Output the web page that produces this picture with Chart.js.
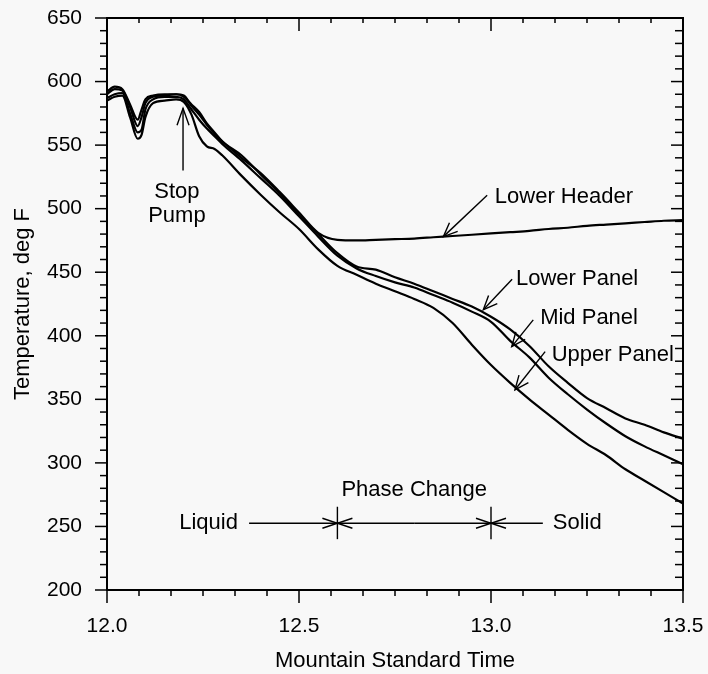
<!DOCTYPE html>
<html>
<head>
<meta charset="utf-8">
<script src="https://cdn.jsdelivr.net/npm/chart.js@4/dist/chart.umd.min.js"></script>
<style>
  html, body { margin: 0; padding: 0; background: #f8f8f8; }
  canvas { display: block; }
</style>
</head>
<body>
<canvas id="chart" width="708" height="674"></canvas>
<script>
// time in hours (MST), temperatures in deg F
const times = [12.0, 12.02, 12.04, 12.06, 12.08, 12.09, 12.1, 12.12, 12.15, 12.18,
  12.2, 12.22, 12.24, 12.26, 12.28, 12.3, 12.35, 12.4, 12.45, 12.5,
  12.55, 12.6, 12.65, 12.7, 12.75, 12.8, 12.85, 12.9, 12.95, 13.0,
  13.05, 13.1, 13.15, 13.2, 13.25, 13.3, 13.35, 13.4, 13.45, 13.5];

const lowerHeader = [592, 596, 594, 582, 570, 578, 586, 589, 590, 590,
  589, 581, 574, 566, 559, 553, 540, 528, 513, 497,
  481, 475.5, 475, 475.5, 476, 476.5, 477.5, 478.5, 479.5, 480.5,
  481.5, 482.5, 484, 485, 486.5, 487.5, 488.5, 489.5, 490.5, 491];
const lowerPanel = [590, 594, 593, 580, 565, 572, 583, 588, 589, 590,
  588, 582, 576, 567, 560, 553, 542, 527, 512, 495,
  480, 465, 454.5, 452, 446, 441, 435, 429, 423, 415,
  405, 392, 376, 363, 351, 343, 335, 330, 324, 319];
const midPanel = [587, 590, 591, 575, 560, 562, 578, 586, 588, 588,
  586, 578, 570, 563, 557, 551, 538, 524, 510, 494,
  478, 463, 453, 447, 442, 438, 432, 426, 419, 411,
  396, 383, 367, 354, 342, 331, 321, 313, 306, 299];
const upperPanel = [585, 588, 589, 572, 555, 558, 572, 583, 585, 586,
  584, 574, 557, 549, 547, 542, 526, 511, 497, 484,
  468, 455, 448, 441, 435, 429, 422, 410, 393, 377,
  363, 350, 338, 326, 315, 306, 295, 286, 277, 268];

const xTicks = [12.0, 12.5, 13.0, 13.5];
const yTicks = [200, 250, 300, 350, 400, 450, 500, 550, 600, 650];

// annotations, in data units
const notes = [
  ["Stop", 12.182, 513, "center"],
  ["Pump", 12.182, 494, "center"],
  ["Lower Header", 13.01, 509.5, "left"],
  ["Lower Panel", 13.065, 444.5, "left"],
  ["Mid Panel", 13.128, 414, "left"],
  ["Upper Panel", 13.158, 385, "left"],
  ["Phase Change", 12.8, 279, "center"],
  ["Liquid", 12.341, 252.5, "right"],
  ["Solid", 13.161, 252.5, "left"]
];
// [fromX, fromY, tipX, tipY, headLen, headHalfWidth]
const arrows = [
  [12.198, 530, 12.198, 579, 17, 6],
  [12.99, 510.5, 12.876, 478, 14, 6],
  [13.055, 444.5, 12.98, 420.5, 14, 6],
  [13.11, 412.5, 13.054, 391.5, 14, 6],
  [13.141, 387.5, 13.0625, 357.5, 14, 6],
  [12.37, 252.5, 12.6, 252.5, 15, 5],
  [12.8, 252.5, 12.6, 252.5, 15, 5],
  [12.8, 252.5, 13.0, 252.5, 15, 5],
  [13.135, 252.5, 13.0, 252.5, 15, 5]
];
const phaseBars = [12.6, 13.0];

const FONT = "'Liberation Sans', Arial, Helvetica, sans-serif";

const decor = {
  id: "decor",
  beforeDraw(chart) {
    const ctx = chart.ctx;
    ctx.save();
    ctx.fillStyle = "#f8f8f8";
    ctx.fillRect(0, 0, chart.width, chart.height);
    ctx.restore();
  },
  afterDraw(chart) {
    const { ctx, chartArea: a, scales: { x, y } } = chart;
    const seg = (x0, y0, x1, y1) => { ctx.beginPath(); ctx.moveTo(x0, y0); ctx.lineTo(x1, y1); ctx.stroke(); };
    ctx.save();
    ctx.strokeStyle = "#000";
    ctx.lineWidth = 2;
    ctx.strokeRect(a.left, a.top, a.right - a.left, a.bottom - a.top);

    ctx.lineWidth = 1.5;
    for (let v = 200; v <= 650; v += 10) {
      const p = y.getPixelForValue(v);
      const major = v % 50 === 0;
      seg(a.left - (major ? 12 : 7), p, a.left, p);
      seg(a.right - (major ? 12 : 8), p, a.right, p);
    }
    for (let i = 0; i <= 18; i++) {
      const p = x.getPixelForValue(12 + i / 12);
      const major = i % 6 === 0;
      seg(p, a.bottom, p, a.bottom + (major ? 13 : 6));
      seg(p, a.top, p, a.top + (major ? 13 : 5));
    }

    ctx.lineWidth = 1.4;
    arrows.forEach(([fx, fy, tx, ty, hl, hw]) => {
      const x0 = x.getPixelForValue(fx), y0 = y.getPixelForValue(fy);
      const x1 = x.getPixelForValue(tx), y1 = y.getPixelForValue(ty);
      seg(x0, y0, x1, y1);
      const len = Math.hypot(x0 - x1, y0 - y1);
      const ux = (x0 - x1) / len, uy = (y0 - y1) / len;
      ctx.beginPath();
      ctx.moveTo(x1 + ux * hl - uy * hw, y1 + uy * hl + ux * hw);
      ctx.lineTo(x1, y1);
      ctx.lineTo(x1 + ux * hl + uy * hw, y1 + uy * hl - ux * hw);
      ctx.stroke();
    });
    phaseBars.forEach(t => {
      const p = x.getPixelForValue(t);
      seg(p, y.getPixelForValue(265.5), p, y.getPixelForValue(240));
    });

    ctx.fillStyle = "#000";
    ctx.font = "22px " + FONT;
    ctx.textBaseline = "middle";
    notes.forEach(([txt, tx, ty, align]) => {
      ctx.textAlign = align;
      ctx.fillText(txt, x.getPixelForValue(tx), y.getPixelForValue(ty));
    });
    ctx.restore();
  }
};

const series = [lowerHeader, lowerPanel, midPanel, upperPanel];
const names = ["Lower Header", "Lower Panel", "Mid Panel", "Upper Panel"];

new Chart(document.getElementById("chart"), {
  type: "line",
  data: {
    datasets: series.map((vals, k) => ({
      label: names[k],
      data: times.map((t, i) => ({ x: t, y: vals[i] })),
      borderColor: "#000",
      borderWidth: 2.2,
      pointRadius: 0,
      fill: false,
      cubicInterpolationMode: "monotone"
    }))
  },
  options: {
    responsive: false,
    animation: false,
    layout: { padding: { left: 0, top: 18, right: 25, bottom: 0 } },
    plugins: { legend: { display: false }, tooltip: { enabled: false } },
    scales: {
      x: {
        type: "linear",
        min: 12, max: 13.5,
        afterFit: s => { s.height = 84; s.paddingLeft = 0; s.paddingRight = 0; },
        afterBuildTicks: s => { s.ticks = xTicks.map(v => ({ value: v })); },
        grid: { display: false, drawTicks: false },
        border: { display: false },
        ticks: { color: "#000", padding: 24, font: { family: FONT, size: 21 }, callback: v => v.toFixed(1) },
        title: { display: true, text: "Mountain Standard Time", color: "#000", padding: { top: 0, bottom: 0 }, font: { family: FONT, size: 22 } }
      },
      y: {
        min: 200, max: 650,
        afterFit: s => { s.width = 107; s.paddingTop = 0; s.paddingBottom = 0; },
        afterBuildTicks: s => { s.ticks = yTicks.map(v => ({ value: v })); },
        grid: { display: false, drawTicks: false },
        border: { display: false },
        ticks: { color: "#000", padding: 25, font: { family: FONT, size: 21 } },
        title: { display: true, text: "Temperature, deg F", color: "#000", padding: { top: 10, bottom: 0 }, font: { family: FONT, size: 22 } }
      }
    }
  },
  plugins: [decor]
});
</script>
</body>
</html>
